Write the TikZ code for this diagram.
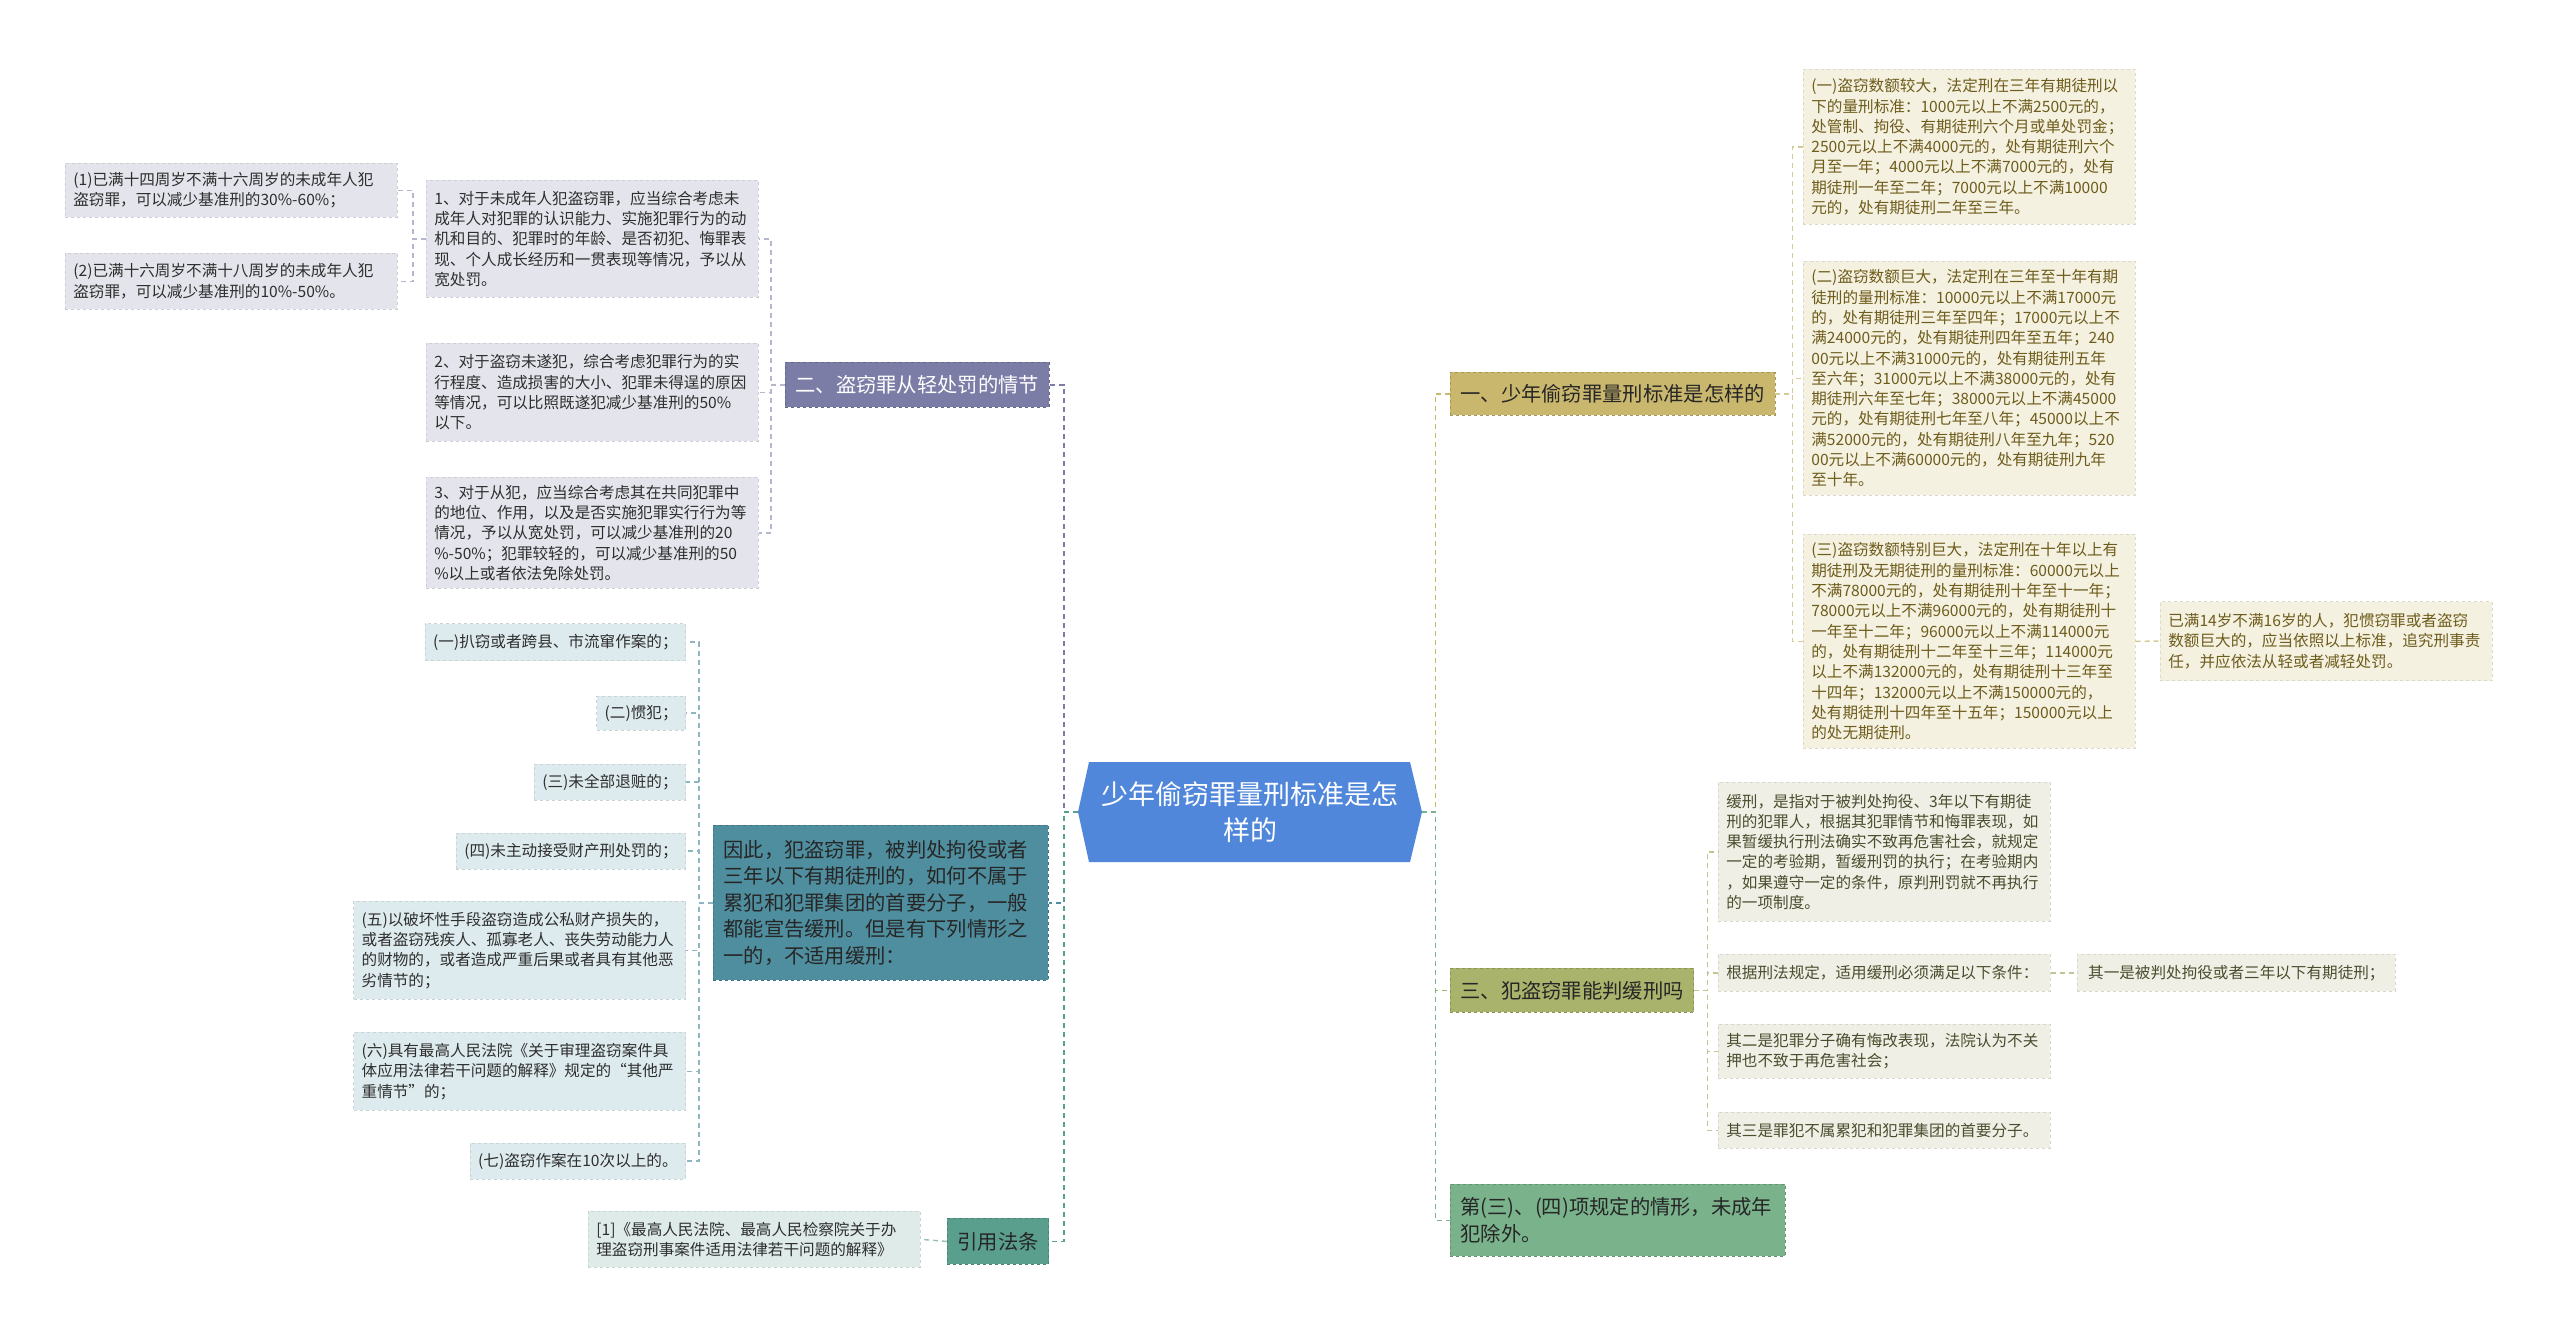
\documentclass[tikz,border=0pt]{standalone}
\usepackage{fontspec}
\setmainfont{Noto Sans CJK SC}

\definecolor{rootblue}{HTML}{5087DB}
\definecolor{purp}{HTML}{7B7DA6}
\definecolor{tealb}{HTML}{4F8E9E}
\definecolor{teallaw}{HTML}{5A9E8D}
\definecolor{gold}{HTML}{CAB76E}
\definecolor{olive}{HTML}{AAB36C}
\definecolor{greenb}{HTML}{7AB28C}
\definecolor{lfpurp}{HTML}{E4E5EC}
\definecolor{lfteal}{HTML}{DEEBEE}
\definecolor{lflaw}{HTML}{DEEBE9}
\definecolor{lfgold}{HTML}{F4F1E0}
\definecolor{lfolive}{HTML}{EFEFE5}
\definecolor{txgold}{HTML}{6E5C1C}
\definecolor{txolive}{HTML}{4B4D2E}

\newcommand\leaffont{\fontsize{15.6}{20.3}\selectfont}
\newcommand\branchfont{\fontsize{20.3}{26.5}\selectfont}
\newcommand\rootfont{\fontsize{27}{36}\selectfont}

\tikzset{
  leaf/.style={fill=#1, draw=#1!90!black, dashed, line width=0.7pt,
    inner xsep=8pt, inner ysep=6pt, align=left, font=\leaffont, text=black!82},
  wide/.style={text width=316pt},
  branch/.style={fill=#1, draw=#1!82!black, dashed, line width=0.9pt,
    inner xsep=10pt, inner ysep=6pt, align=left, font=\branchfont, text=black!85},
  link/.style={draw=#1, dash pattern=on 5pt off 4pt, line width=1.4pt},
}

\begin{document}
\begin{tikzpicture}[x=1pt,y=-1pt]
\useasboundingbox (0,0) rectangle (2560,1337);
\fill[white] (0,0) rectangle (2560,1337);

% root
\fill[rootblue] (1078,812) -- (1089,762) -- (1410,762) -- (1422,812) -- (1410,862) -- (1089,862) -- cycle;
\node[minimum width=344pt, minimum height=100pt, align=center, font=\rootfont, text=white] (root) at (1250,812) {少年偷窃罪量刑标准是怎\\样的};

% left side
\node[branch=purp, text=white, anchor=north west, minimum width=263pt, minimum height=45pt] (b2) at (785,362) {二、盗窃罪从轻处罚的情节};
\node[branch=tealb, anchor=north west, text width=315pt, minimum height=155pt] (b5) at (713,825) {因此，犯盗窃罪，被判处拘役或者\\三年以下有期徒刑的，如何不属于\\累犯和犯罪集团的首要分子，一般\\都能宣告缓刑。但是有下列情形之\\一的，不适用缓刑：};
\node[branch=teallaw, anchor=north west, minimum width=101pt, minimum height=46pt] (b6) at (947,1218) {引用法条};

\node[leaf=lfpurp, wide, anchor=north west, minimum height=117pt] (s1) at (426,180) {1、对于未成年人犯盗窃罪，应当综合考虑未\\成年人对犯罪的认识能力、实施犯罪行为的动\\机和目的、犯罪时的年龄、是否初犯、悔罪表\\现、个人成长经历和一贯表现等情况，予以从\\宽处罚。};
\node[leaf=lfpurp, wide, anchor=north west, minimum height=98pt] (s2) at (426,343) {2、对于盗窃未遂犯，综合考虑犯罪行为的实\\行程度、造成损害的大小、犯罪未得逞的原因\\等情况，可以比照既遂犯减少基准刑的50\%\\以下。};
\node[leaf=lfpurp, wide, anchor=north west, minimum height=111pt] (s3) at (426,477) {3、对于从犯，应当综合考虑其在共同犯罪中\\的地位、作用，以及是否实施犯罪实行行为等\\情况，予以从宽处罚，可以减少基准刑的20\\\%-50\%；犯罪较轻的，可以减少基准刑的50\\\%以上或者依法免除处罚。};
\node[leaf=lfpurp, wide, anchor=north west, minimum height=54pt] (t1) at (65,163) {(1)已满十四周岁不满十六周岁的未成年人犯\\盗窃罪，可以减少基准刑的30\%-60\%；};
\node[leaf=lfpurp, wide, anchor=north west, minimum height=56pt] (t2) at (65,253) {(2)已满十六周岁不满十八周岁的未成年人犯\\盗窃罪，可以减少基准刑的10\%-50\%。};

\node[leaf=lfteal, anchor=east, minimum height=37pt] (c1) at (686,642) {(一)扒窃或者跨县、市流窜作案的；};
\node[leaf=lfteal, anchor=east, minimum height=34pt] (c2) at (686,713) {(二)惯犯；};
\node[leaf=lfteal, anchor=east, minimum height=36pt] (c3) at (686,782) {(三)未全部退赃的；};
\node[leaf=lfteal, anchor=east, minimum height=36pt] (c4) at (686,851) {(四)未主动接受财产刑处罚的；};
\node[leaf=lfteal, wide, anchor=north east, minimum height=98pt] (c5) at (686,901) {(五)以破坏性手段盗窃造成公私财产损失的，\\或者盗窃残疾人、孤寡老人、丧失劳动能力人\\的财物的，或者造成严重后果或者具有其他恶\\劣情节的；};
\node[leaf=lfteal, wide, anchor=north east, minimum height=78pt] (c6) at (686,1032) {(六)具有最高人民法院《关于审理盗窃案件具\\体应用法律若干问题的解释》规定的“其他严\\重情节”的；};
\node[leaf=lfteal, anchor=east, minimum height=36pt] (c7) at (686,1161) {(七)盗窃作案在10次以上的。};
\node[leaf=lflaw, wide, anchor=north west, minimum height=56pt] (law) at (588,1211) {[1]《最高人民法院、最高人民检察院关于办\\理盗窃刑事案件适用法律若干问题的解释》};

% right side
\node[branch=gold, anchor=north west, minimum width=322pt, minimum height=43pt] (b1) at (1450,372) {一、少年偷窃罪量刑标准是怎样的};
\node[branch=olive, anchor=north west, minimum width=243pt, minimum height=44pt] (b3) at (1450,968) {三、犯盗窃罪能判缓刑吗};
\node[branch=greenb, anchor=north west, text width=315pt, minimum height=72pt] (b4) at (1450,1184) {第(三)、(四)项规定的情形，未成年\\犯除外。};

\node[leaf=lfgold, wide, text=txgold, anchor=north west, minimum height=155pt] (g1) at (1803,69) {(一)盗窃数额较大，法定刑在三年有期徒刑以\\下的量刑标准：1000元以上不满2500元的，\\处管制、拘役、有期徒刑六个月或单处罚金；\\2500元以上不满4000元的，处有期徒刑六个\\月至一年；4000元以上不满7000元的，处有\\期徒刑一年至二年；7000元以上不满10000\\元的，处有期徒刑二年至三年。};
\node[leaf=lfgold, wide, text=txgold, anchor=north west, minimum height=234pt] (g2) at (1803,261) {(二)盗窃数额巨大，法定刑在三年至十年有期\\徒刑的量刑标准：10000元以上不满17000元\\的，处有期徒刑三年至四年；17000元以上不\\满24000元的，处有期徒刑四年至五年；240\\00元以上不满31000元的，处有期徒刑五年\\至六年；31000元以上不满38000元的，处有\\期徒刑六年至七年；38000元以上不满45000\\元的，处有期徒刑七年至八年；45000以上不\\满52000元的，处有期徒刑八年至九年；520\\00元以上不满60000元的，处有期徒刑九年\\至十年。};
\node[leaf=lfgold, wide, text=txgold, anchor=north west, minimum height=214pt] (g3) at (1803,534) {(三)盗窃数额特别巨大，法定刑在十年以上有\\期徒刑及无期徒刑的量刑标准：60000元以上\\不满78000元的，处有期徒刑十年至十一年；\\78000元以上不满96000元的，处有期徒刑十\\一年至十二年；96000元以上不满114000元\\的，处有期徒刑十二年至十三年；114000元\\以上不满132000元的，处有期徒刑十三年至\\十四年；132000元以上不满150000元的，\\处有期徒刑十四年至十五年；150000元以上\\的处无期徒刑。};
\node[leaf=lfgold, wide, text=txgold, anchor=west, minimum height=79pt] (g4) at (2160,641) {已满14岁不满16岁的人，犯惯窃罪或者盗窃\\数额巨大的，应当依照以上标准，追究刑事责\\任，并应依法从轻或者减轻处罚。};

\node[leaf=lfolive, wide, text=txolive, anchor=north west, minimum height=139pt] (o1) at (1718,782) {缓刑，是指对于被判处拘役、3年以下有期徒\\刑的犯罪人，根据其犯罪情节和悔罪表现，如\\果暂缓执行刑法确实不致再危害社会，就规定\\一定的考验期，暂缓刑罚的执行；在考验期内\\，如果遵守一定的条件，原判刑罚就不再执行\\的一项制度。};
\node[leaf=lfolive, wide, text=txolive, anchor=north west, minimum height=37pt] (o2) at (1718,954) {根据刑法规定，适用缓刑必须满足以下条件：};
\node[leaf=lfolive, wide, text=txolive, anchor=north west, minimum height=54pt] (o3) at (1718,1024) {其二是犯罪分子确有悔改表现，法院认为不关\\押也不致于再危害社会；};
\node[leaf=lfolive, wide, text=txolive, anchor=north west, minimum height=36pt] (o4) at (1718,1112) {其三是罪犯不属累犯和犯罪集团的首要分子。};
\node[leaf=lfolive, text=txolive, anchor=north west, minimum width=318pt, minimum height=37pt] (o5) at (2077,954) {其一是被判处拘役或者三年以下有期徒刑；};

% connectors
\foreach \b/\c in {b2/purp, b5/tealb, b6/teallaw}
\draw[link=\c] (root.west) -- ++(-14,0) |- (\b.east);
\foreach \b/\c in {b1/gold, b3/olive, b4/greenb}
\draw[link=\c] (root.east) -- ++(13,0) |- (\b.west);

\foreach \s in {s1,s2,s3}
\draw[link=purp!55] (b2.west) -- ++(-14,0) |- (\s.east);
\foreach \s in {t1,t2}
\draw[link=purp!55] (s1.west) -- ++(-13,0) |- (\s.east);
\foreach \i in {1,...,7}
\draw[link=tealb!65] (b5.west) -- ++(-14,0) |- (c\i.east);
\draw[link=teallaw!65] (b6.west) -- (law.east);

\foreach \i in {1,2,3}
\draw[link=gold!75] (b1.east) -- ++(17,0) |- (g\i.west);
\draw[link=gold!75] (g3.east) -- (g4.west);
\foreach \i in {1,...,4}
\draw[link=olive!75] (b3.east) -- ++(13,0) |- (o\i.west);
\draw[link=olive!75] (o2.east) -- (o5.west);
\end{tikzpicture}
\end{document}
